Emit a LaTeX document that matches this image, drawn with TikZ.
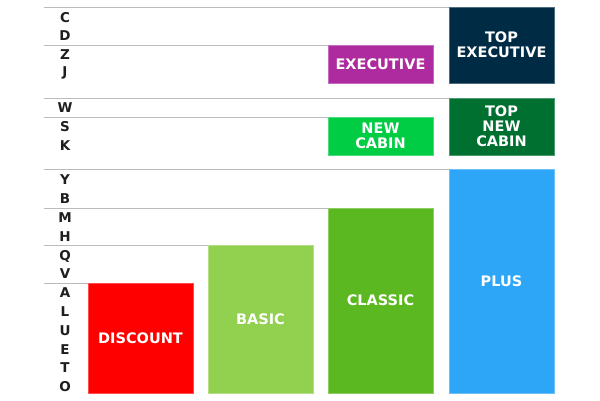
\documentclass[tikz,border=0pt]{standalone}
\usepackage{fontspec}
\setmainfont{DejaVu Sans}
\definecolor{gridc}{HTML}{BBBBBB}
\definecolor{letc}{HTML}{1E1E1E}
\definecolor{cdisc}{HTML}{FF0000}
\definecolor{cbasic}{HTML}{92D050}
\definecolor{cclassic}{HTML}{5CB820}
\definecolor{cplus}{HTML}{2EA6F7}
\definecolor{cexec}{HTML}{AD2B9E}
\definecolor{cnew}{HTML}{00CC44}
\definecolor{ctopexec}{HTML}{002B45}
\definecolor{ctopnew}{HTML}{007030}
\tikzset{
  fare/.style={inner sep=0pt, outer sep=0pt, minimum width=105pt, align=center,
    text=white, font=\fontsize{14.5}{15}\selectfont\bfseries},
  letter/.style={inner sep=0pt, text=letc, font=\fontsize{13.5}{14}\selectfont\bfseries},
  grid/.style={draw=gridc, line width=1pt}
}
\begin{document}
\begin{tikzpicture}[x=1pt,y=-1pt]
\useasboundingbox (0,0) rectangle (600,400);
% boxes
\node[fare, fill=cdisc, draw=cdisc!70!white, minimum height=110pt] (discount) at (140.5,338) {DISCOUNT};
\node[fare, fill=cbasic, draw=cbasic!70!white, minimum height=148pt] (basic) at (260.5,319) {BASIC};
\node[fare, fill=cclassic, draw=cclassic!70!white, minimum height=185pt] (classic) at (380.5,300.5) {CLASSIC};
\node[fare, fill=cplus, draw=cplus!70!white, minimum height=224pt] (plus) at (501.5,281) {PLUS};
\node[fare, fill=cexec, draw=cexec!70!white, minimum height=38pt] (exec) at (380.5,64) {EXECUTIVE};
\node[fare, fill=cnew, draw=cnew!70!white, minimum height=38pt] (newcabin) at (380.5,136) {NEW\\CABIN};
\node[fare, fill=ctopexec, draw=ctopexec!70!white, minimum height=76pt] (topexec) at (501.5,45) {TOP\\EXECUTIVE};
\node[fare, fill=ctopnew, draw=ctopnew!70!white, minimum height=57pt] (topnew) at (501.5,126.5) {TOP\\NEW\\CABIN};
% grid lines
\coordinate (l1) at (44,7);
\coordinate (l2) at (44,45);
\coordinate (l3) at (44,98);
\coordinate (l4) at (44,117);
\coordinate (l5) at (44,169);
\coordinate (l6) at (44,208);
\coordinate (l7) at (44,245);
\coordinate (l8) at (44,283);
\draw[grid] (l1) -- (topexec.north west);
\draw[grid] (l2) -- (exec.north west);
\draw[grid] (l3) -- (topnew.north west);
\draw[grid] (l4) -- (newcabin.north west);
\draw[grid] (l5) -- (plus.north west);
\draw[grid] (l6) -- (classic.north west);
\draw[grid] (l7) -- (basic.north west);
\draw[grid] (l8) -- (discount.north west);
% letters
\node[letter] (lC) at (65,18) {C};
\node[letter] (lD) at (65,36) {D};
\node[letter] (lZ) at (65,55) {Z};
\node[letter] (lJ) at (65,73) {J};
\node[letter] (lW) at (65,107.5) {W};
\node[letter] (lS) at (65,127) {S};
\node[letter] (lK) at (65,146) {K};
\node[letter] (lY) at (65,180) {Y};
\node[letter] (lB) at (65,199) {B};
\node[letter] (lM) at (65,218) {M};
\node[letter] (lH) at (65,237) {H};
\node[letter] (lQ) at (65,256) {Q};
\node[letter] (lV) at (65,274) {V};
\node[letter] (lA) at (65,293) {A};
\node[letter] (lL) at (65,312) {L};
\node[letter] (lU) at (65,331) {U};
\node[letter] (lE) at (65,349.5) {E};
\node[letter] (lT) at (65,368) {T};
\node[letter] (lO) at (65,387) {O};
\end{tikzpicture}
\end{document}
